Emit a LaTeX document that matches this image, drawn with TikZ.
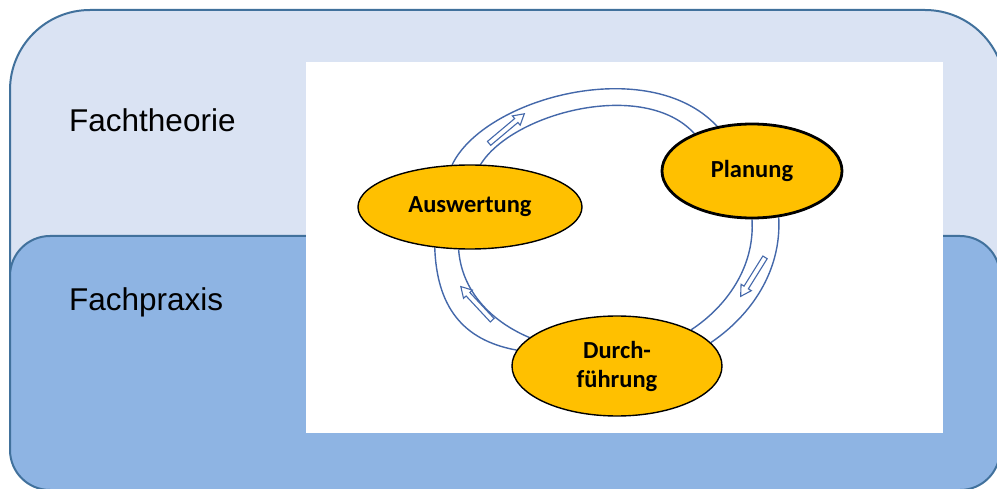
\documentclass[tikz,border=0pt]{standalone}
\usepackage{fontspec}
\setmainfont{Liberation Sans}
\newfontfamily\calib{Carlito}
\usetikzlibrary{shapes.geometric,shapes.arrows}
\pgfdeclarelayer{bg}
\pgfdeclarelayer{ring}
\pgfsetlayers{bg,ring,main}
\definecolor{boxline}{RGB}{65,113,156}
\definecolor{theorie}{RGB}{218,227,243}
\definecolor{praxis}{RGB}{142,180,227}
\definecolor{ringblue}{RGB}{68,104,170}
\definecolor{gold}{RGB}{255,192,0}
\tikzset{
	phase/.style={ellipse,draw=black,fill=gold,line width=1.4pt,inner sep=0pt,
		font=\calib\bfseries\fontsize{24.5}{29}\selectfont,align=center},
	band/.style={draw=ringblue,line width=1.4pt},
	flow/.style={single arrow,draw=ringblue,fill=white,line width=1.1pt,inner sep=2pt,
		minimum height=46pt,single arrow head extend=3.5pt,single arrow tip angle=60},
	field/.style={anchor=base west,inner sep=0pt,font=\fontsize{31.5}{36}\selectfont}
}

\begin{document}
\begin{tikzpicture}[x=1pt,y=-1pt]
	\useasboundingbox (0,0) rectangle (997,489);
	\begin{pgfonlayer}{bg}
	\draw[boxline,line width=2pt,fill=theorie,rounded corners=80pt] (10,10) rectangle (1005,440);
	\draw[boxline,line width=2pt,fill=praxis,rounded corners=40pt] (10,236) rectangle (1000,490);
	\fill[white] (306,62) rectangle (943,433);
	\end{pgfonlayer}
	\node[field] (theo) at (69,132) {Fachtheorie};
	\node[field] (prax) at (69,311) {Fachpraxis};
	
	\node[phase,minimum width=224pt,minimum height=84pt] (ausw) at (470,207) {Auswertung};
	\node[phase,minimum width=180pt,minimum height=94pt,line width=2.8pt] (plan) at (752,171) {Planung};
	\node[phase,minimum width=210pt,minimum height=100pt] (durch) at (617,366) {Durch-\\führung};
	
	\begin{pgfonlayer}{ring}
	\draw[band] (ausw.113) .. controls +(32,-67) and +(-68,-73) .. (plan.128);
	\draw[band] (ausw.76) .. controls +(32,-52) and +(-50,-55) .. (plan.147);
	\draw[band] (plan.300) .. controls +(3,54) and +(40,-27) .. (durch.14);
	\draw[band] (plan.270) .. controls +(3,48) and +(35,-23) .. (durch.26);
	\draw[band] (ausw.229) .. controls +(2,58) and +(-55,-10) .. (durch.171);
	\draw[band] (ausw.255) .. controls +(3,42) and +(-38,-16) .. (durch.162);
	\node[flow,rotate=40] (toplan) at (505,130) {};
	\node[flow,rotate=238] (todurch) at (754,275) {};
	\node[flow,rotate=133] (toausw) at (478,305) {};
	\end{pgfonlayer}
\end{tikzpicture}
\end{document}
